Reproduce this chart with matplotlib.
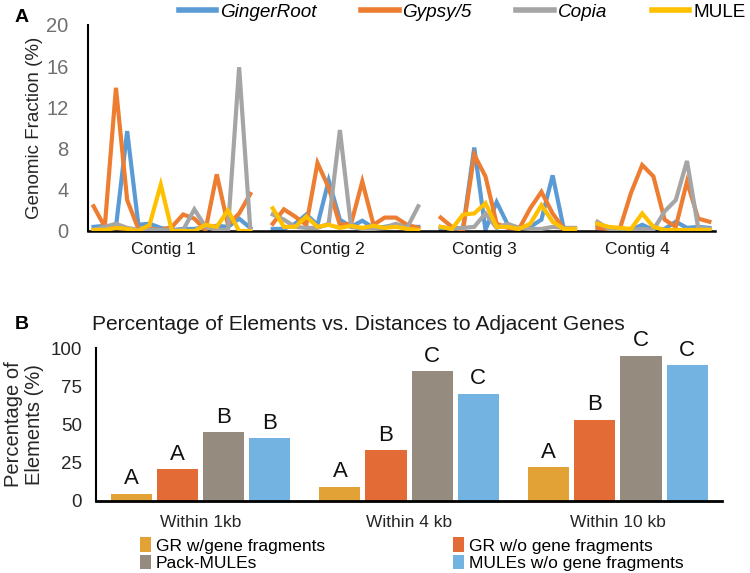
import numpy as np
import matplotlib
matplotlib.use("Agg")
import matplotlib.pyplot as plt
from matplotlib.lines import Line2D
from matplotlib.patches import Patch

plt.rcParams['font.family'] = ['Liberation Sans', 'DejaVu Sans']

# ---------------- Panel A data (genomic fraction, %) ----------------
series_names = ["GingerRoot", "Gypsy/5", "Copia", "MULE"]
contig_labels = ["Contig 1", "Contig 2", "Contig 3", "Contig 4"]

gingerroot_c1 = [0.4, 0.5, 0.4, 9.7, 0.6, 0.7, 0.3, 0.1, 0.2, 0.2, 0.4, 0.5, 0.4, 1.2, 0.3]
gypsy_c1 = [2.4, 0.4, 13.9, 3.0, 0.2, 0.2, 0.1, 0.4, 1.6, 1.2, 0.1, 5.5, 0.6, 1.7, 3.6]
copia_c1 = [0.1, 0.4, 0.7, 0.3, 0.1, 0.1, 0.1, 0.1, 0.1, 2.1, 0.4, 0.1, 0.1, 15.9, 0.1]
mule_c1 = [0.1, 0.1, 0.3, 0.2, 0.0, 0.6, 4.5, 0.0, 0.0, 0.0, 0.6, 0.4, 2.0, 0.0, 0.0]

gingerroot_c2 = [0.2, 0.2, 0.7, 1.6, 0.6, 4.9, 1.1, 0.4, 1.0, 0.3, 0.4, 0.6, 0.4, 0.4]
gypsy_c2 = [0.7, 2.1, 1.4, 0.6, 6.6, 4.2, 0.6, 0.7, 4.8, 0.6, 1.3, 1.3, 0.6, 0.3]
copia_c2 = [1.6, 1.1, 0.4, 0.3, 0.3, 0.7, 9.8, 0.4, 0.2, 0.2, 0.3, 0.7, 0.3, 2.4]
mule_c2 = [2.2, 0.4, 0.4, 1.4, 0.4, 0.6, 0.3, 0.5, 0.3, 0.5, 0.3, 0.4, 0.2, 0.1]

gingerroot_c3 = [0.2, 0.2, 0.3, 8.1, 0.1, 2.8, 0.6, 0.2, 0.4, 1.1, 5.4, 0.2, 0.2]
gypsy_c3 = [1.3, 0.4, 0.1, 7.4, 5.3, 0.7, 0.3, 0.2, 2.2, 3.8, 1.7, 0.2, 0.2]
copia_c3 = [0.4, 0.2, 0.3, 0.4, 1.7, 0.3, 0.7, 0.3, 0.2, 0.2, 0.4, 0.3, 0.3]
mule_c3 = [0.4, 0.2, 1.6, 1.7, 2.7, 0.4, 0.4, 0.2, 0.7, 2.5, 0.9, 0.2, 0.2]

gingerroot_c4 = [0.6, 0.3, 0.1, 0.1, 0.6, 0.1, 0.2, 0.9, 0.3, 0.4, 0.3]
gypsy_c4 = [0.3, 0.2, 0.2, 3.7, 6.4, 5.3, 1.1, 0.4, 4.8, 1.2, 0.9]
copia_c4 = [0.9, 0.2, 0.1, 0.1, 0.2, 0.1, 1.9, 3.0, 6.8, 0.3, 0.2]
mule_c4 = [0.7, 0.4, 0.3, 0.2, 1.7, 0.4, 0.1, 0.1, 0.1, 0.1, 0.1]

a_yticks = [0, 4, 8, 12, 16, 20]

# ---------------- Panel B data ----------------
b_categories = ["Within 1kb", "Within 4 kb", "Within 10 kb"]
b_series = ["GR w/gene fragments", "GR w/o gene fragments", "Pack-MULEs", "MULEs w/o gene fragments"]
gr_with = [4.5, 9, 22]
gr_without = [20.5, 33, 53]
pack_mules = [45, 85, 95]
mules_without = [41, 70, 89]
letters_gr_with = ["A", "A", "A"]
letters_gr_without = ["A", "B", "B"]
letters_pack = ["B", "C", "C"]
letters_mules = ["B", "C", "C"]
b_yticks = [0, 25, 50, 75, 100]

# ---------------- Figure ----------------
fig = plt.figure(figsize=(7.5, 5.73), dpi=100)

# Panel A
axA = fig.add_axes([0.1173, 0.5969, 0.836, 0.3595])
line_colors = ["#5B9BD5", "#ED7D31", "#A5A5A5", "#FFC000"]
per_series = [
    [gingerroot_c1, gingerroot_c2, gingerroot_c3, gingerroot_c4],
    [gypsy_c1, gypsy_c2, gypsy_c3, gypsy_c4],
    [copia_c1, copia_c2, copia_c3, copia_c4],
    [mule_c1, mule_c2, mule_c3, mule_c4],
]
handles = []
for s, (name, col) in enumerate(zip(series_names, line_colors)):
    ys = []
    for k, seg in enumerate(per_series[s]):
        if k > 0:
            ys.append(np.nan)
        ys.extend(seg)
    ys = np.array(ys, dtype=float)
    xs = np.arange(len(ys))
    axA.plot(xs, ys, color=col, lw=3.0, solid_joinstyle='miter', zorder=2 + s)
    handles.append(Line2D([], [], color=col, lw=4))
    n_total = len(ys)

axA.set_xlim(-0.5, n_total - 0.5)
axA.set_ylim(0, 20)
axA.set_yticks(a_yticks)
axA.set_xticks([])
axA.tick_params(axis='y', length=0, labelsize=14.5, labelcolor='#6f6f6f', pad=14)
for sp in ['top', 'right']:
    axA.spines[sp].set_visible(False)
axA.spines['left'].set_linewidth(1.5)
axA.spines['bottom'].set_linewidth(1.8)
axA.set_ylabel("Genomic Fraction (%)", fontsize=13.5, color='#262626', labelpad=2)

contig_x = [6.2, 21.3, 34.9, 48.6]
for xpos, lab in zip(contig_x, contig_labels):
    axA.text(xpos, -0.092, lab, transform=axA.get_xaxis_transform(),
             ha='center', va='center', fontsize=12.5, color='#1a1a1a')

leg = fig.legend(handles, series_names, loc='center left', bbox_to_anchor=(0.238, 0.979),
                 ncol=4, frameon=False, fontsize=13.6, handlelength=2.0,
                 handletextpad=0.2, columnspacing=2.35, borderpad=0, borderaxespad=0)
for t, name in zip(leg.get_texts(), series_names):
    if name != "MULE":
        t.set_fontstyle('italic')

fig.text(0.019, 0.969, "A", fontsize=14, fontweight='bold', ha='left', va='center')

# Panel B
axB = fig.add_axes([0.128, 0.1262, 0.835, 0.2659])
bar_colors = ["#E3A235", "#E36C36", "#958B7E", "#72B3E1"]
bar_vals = [gr_with, gr_without, pack_mules, mules_without]
bar_letters = [letters_gr_with, letters_gr_without, letters_pack, letters_mules]
step = 0.221
width = 0.197
xc = np.arange(len(b_categories))
bar_handles = []
for i, (vals, col, lets) in enumerate(zip(bar_vals, bar_colors, bar_letters)):
    pos = xc + (i - 1.5) * step
    axB.bar(pos, vals, width=width, color=col, zorder=2)
    bar_handles.append(Patch(facecolor=col))
    for p, v, L in zip(pos, vals, lets):
        axB.text(p, v + 3, L, ha='center', va='bottom', fontsize=16, color='#111111', clip_on=False)

axB.set_xlim(-0.5, len(b_categories) - 0.5)
axB.set_ylim(0, 100)
axB.set_yticks(b_yticks)
axB.set_xticks(xc)
axB.set_xticklabels(b_categories)
axB.tick_params(axis='y', length=0, labelsize=13.5, labelcolor='#262626', pad=10)
axB.tick_params(axis='x', length=0, labelsize=12.5, labelcolor='#262626', pad=10)
for sp in ['top', 'right']:
    axB.spines[sp].set_visible(False)
axB.spines['left'].set_linewidth(1.5)
axB.spines['bottom'].set_linewidth(2.0)
axB.set_ylabel("Percentage of\nElements (%)", fontsize=14.5, color='#262626', labelpad=5,
               linespacing=1.15)
fig.text(0.123, 0.434, "Percentage of Elements vs. Distances to Adjacent Genes",
         fontsize=15.1, color='#1a1a1a', ha='left', va='center')
fig.text(0.019, 0.434, "B", fontsize=14, fontweight='bold', ha='left', va='center')

order = [0, 2, 1, 3]
legB = fig.legend([bar_handles[i] for i in order], [b_series[i] for i in order],
                  loc='upper left', bbox_to_anchor=(0.187, 0.062), ncol=2, frameon=False,
                  fontsize=12.5, handlelength=0.6, handleheight=0.9, handletextpad=0.3,
                  columnspacing=7.4, labelspacing=0.05, borderpad=0, borderaxespad=0)

fig.savefig("out.png", dpi=100)
